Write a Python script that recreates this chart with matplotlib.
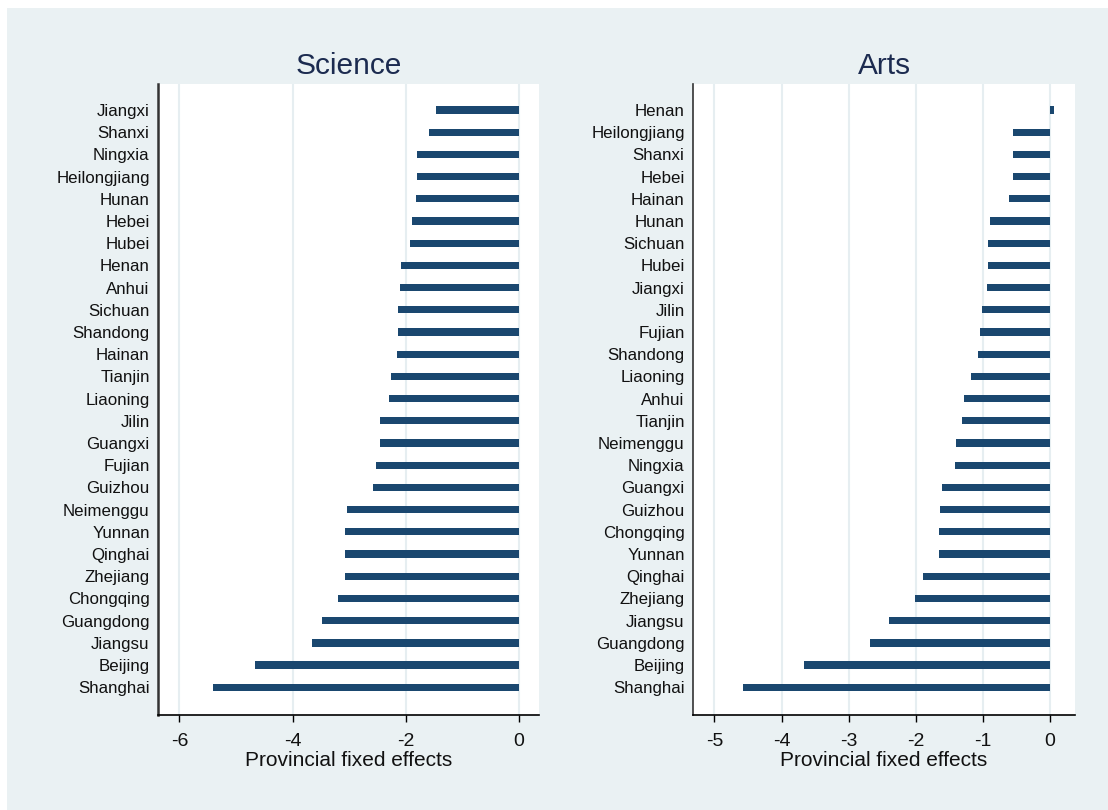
import matplotlib
matplotlib.use("Agg")
import matplotlib.pyplot as plt
from matplotlib.patches import Rectangle

plt.rcParams['font.family'] = ['Liberation Sans', 'DejaVu Sans']

sci_provinces = ["Jiangxi", "Shanxi", "Ningxia", "Heilongjiang", "Hunan", "Hebei", "Hubei",
                 "Henan", "Anhui", "Sichuan", "Shandong", "Hainan", "Tianjin", "Liaoning",
                 "Jilin", "Guangxi", "Fujian", "Guizhou", "Neimenggu", "Yunnan", "Qinghai",
                 "Zhejiang", "Chongqing", "Guangdong", "Jiangsu", "Beijing", "Shanghai"]
sci_values = [-1.47, -1.58, -1.79, -1.79, -1.81, -1.88, -1.93, -2.09, -2.10, -2.14, -2.14,
              -2.15, -2.26, -2.30, -2.46, -2.46, -2.52, -2.58, -3.04, -3.07, -3.08, -3.08,
              -3.19, -3.47, -3.65, -4.66, -5.41]

arts_provinces = ["Henan", "Heilongjiang", "Shanxi", "Hebei", "Hainan", "Hunan", "Sichuan",
                  "Hubei", "Jiangxi", "Jilin", "Fujian", "Shandong", "Liaoning", "Anhui",
                  "Tianjin", "Neimenggu", "Ningxia", "Guangxi", "Guizhou", "Chongqing",
                  "Yunnan", "Qinghai", "Zhejiang", "Jiangsu", "Guangdong", "Beijing", "Shanghai"]
arts_values = [0.06, -0.55, -0.56, -0.56, -0.61, -0.90, -0.93, -0.93, -0.94, -1.01, -1.04,
               -1.07, -1.18, -1.29, -1.31, -1.40, -1.42, -1.61, -1.64, -1.65, -1.66, -1.90,
               -2.02, -2.40, -2.68, -3.67, -4.58]

sci_ticks = [-6, -4, -2, 0]
arts_ticks = [-5, -4, -3, -2, -1, 0]

BG = '#eaf1f3'
BAR = '#1a476f'
GRID = '#e6eef1'
TITLE = '#1c2b50'

W, H = 1108, 810
fig = plt.figure(figsize=(W / 100, H / 100), dpi=100, facecolor='white')
fig.patches.append(Rectangle((7 / W, 0), 1 - 7 / W, 1 - 8 / H, transform=fig.transFigure,
                             facecolor=BG, edgecolor='none', zorder=-10))


def panel(rect, names, vals, ticks, xlim, title, spine_w):
    l, t, r, b = rect
    ax = fig.add_axes([l / W, 1 - b / H, (r - l) / W, (b - t) / H])
    ax.set_facecolor('white')
    n = len(names)
    ypos = list(range(n))
    ax.barh(ypos, vals, height=0.33, color=BAR, zorder=3)
    ax.set_yticks(ypos)
    ax.set_yticklabels(names, fontsize=12.2, color='#111111')
    ax.set_ylim(n - 1 + 1.25, -1.17)
    ax.set_xlim(*xlim)
    ax.set_xticks(ticks)
    ax.set_xticklabels([str(v) for v in ticks], fontsize=14, color='#111111')
    ax.tick_params(axis='y', length=0, pad=6)
    ax.tick_params(axis='x', length=5, width=1, pad=8, color='black')
    ax.grid(axis='x', color=GRID, linewidth=1.5, zorder=0)
    for s in ['top', 'right']:
        ax.spines[s].set_visible(False)
    ax.spines['left'].set_color('#333333')
    ax.spines['left'].set_linewidth(spine_w)
    ax.spines['bottom'].set_color('black')
    ax.spines['bottom'].set_linewidth(1.2)
    ax.set_xlabel('Provincial fixed effects', fontsize=15, color='#111111', labelpad=1)
    ax.set_title(title, fontsize=21.5, color=TITLE, pad=7)
    return ax


panel((158, 84, 539, 715), sci_provinces, sci_values, sci_ticks, (-6.38, 0.36), 'Science', 1.8)
panel((693, 84, 1075, 715), arts_provinces, arts_values, arts_ticks, (-5.32, 0.37), 'Arts', 1.2)

fig.savefig('out.png', dpi=100, facecolor=fig.get_facecolor())
